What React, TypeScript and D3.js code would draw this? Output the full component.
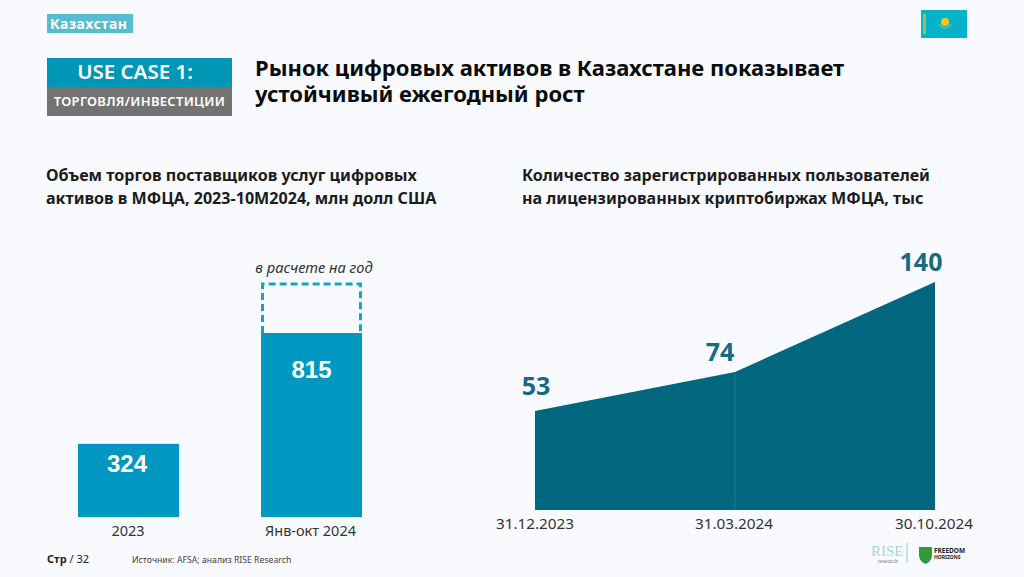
import React from "react";
import * as d3 from "d3";

const barCategories = ["2023", "Янв-окт 2024"];
const barValues = [324, 815];
const annualisedValue = 1036;
const areaDates = ["31.12.2023", "31.03.2024", "30.10.2024"];
const areaValues = [53, 74, 140];
const areaScaleKnots = [0, 53, 74, 140];
const titleLines = ["Рынок цифровых активов в Казахстане показывает", "устойчивый ежегодный рост"];
const leftHeading = ["Объем торгов поставщиков услуг цифровых", "активов в МФЦА, 2023-10М2024, млн долл США"];
const rightHeading = ["Количество зарегистрированных пользователей", "на лицензированных криптобиржах МФЦА, тыс"];

const F = "'Noto Sans', 'Open Sans', sans-serif";
const BLUE = "#0097c0";
const TEAL = "#00677f";

export default function App() {
  const barW = 101;
  const barLeft = (c: string) => (c === barCategories[0] ? 78 : 261);
  const barY = d3.scaleLinear().domain([0, 815]).range([517, 333]);
  const areaX = d3.scalePoint().domain(areaDates).range([535, 935]);
  const areaY = d3.scaleLinear().domain(areaScaleKnots).range([510, 411, 372, 282]);
  const area = d3.area<number>()
    .x((_, i) => areaX(areaDates[i]) as number)
    .y0(areaY(0))
    .y1((d) => areaY(d));
  const dashLeft = barLeft(barCategories[1]) + 1.5;
  const dashRight = dashLeft + barW - 3;
  const dashTop = barY(annualisedValue) + 1;
  const dashBottom = barY(barValues[1]);

  return (
    <svg width={1024} height={577} style={{ position: "absolute", left: 0, top: 0 }} fontFamily={F}>
      <rect width={1024} height={577} fill="#f9faff" />

      <rect x={47} y={14} width={86} height={19} fill="#55bcd2" />
      <text x={50} y={29} fontSize={14} fontWeight={700} fill="#fff" letterSpacing={0.5}>Казахстан</text>

      <rect x={921} y={10} width={46} height={28} fill="#05b2cc" />
      <rect x={923} y={14} width={3} height={20} fill="#a9b84a" />
      <circle cx={945} cy={22} r={4} fill="#f7c90c" />
      <path d="M939 24 Q945 32 951 24" fill="none" stroke="#6fb98a" strokeWidth={1.5} />

      <rect x={47} y={58} width={185} height={29} fill="#0097b6" />
      <text x={135} y={79} textAnchor="middle" fontSize={20.5} fontWeight={600} fill="#fff">USE CASE 1:</text>
      <rect x={47} y={87} width={185} height={29} fill="#737373" />
      <text x={139.5} y={106} textAnchor="middle" fontSize={13} fontWeight={600} fill="#fff" letterSpacing={0.3}>ТОРГОВЛЯ/ИНВЕСТИЦИИ</text>

      {titleLines.map((t, i) => (
        <text key={t} x={255} y={76 + i * 26} fontSize={22} fontWeight={700} fill="#0b0b0b">{t}</text>
      ))}
      {leftHeading.map((t, i) => (
        <text key={t} x={46} y={181 + i * 23} fontSize={16.1} fontWeight={700} fill="#1c1c1c">{t}</text>
      ))}
      {rightHeading.map((t, i) => (
        <text key={t} x={522} y={181 + i * 23} fontSize={16.1} fontWeight={700} fill="#1c1c1c">{t}</text>
      ))}

      <path
        d={`M${dashLeft} ${dashBottom} V${dashTop} H${dashRight} V${dashBottom}`}
        fill="none"
        stroke="#12a5cb"
        strokeWidth={3}
        strokeDasharray="7 4"
      />
      {barCategories.map((c, i) => (
        <g key={c}>
          <rect x={barLeft(c)} y={barY(barValues[i])} width={barW} height={barY(0) - barY(barValues[i])} fill={BLUE} />
          <text x={barLeft(c) + barW / 2 + [-1.5, 0][i]} y={barY(barValues[i]) + [28, 45][i]} textAnchor="middle" fontSize={24} fontWeight={700} fontFamily="'Liberation Sans', sans-serif" fill="#fff">
            {barValues[i]}
          </text>
          <text x={barLeft(c) + barW / 2 + [-0.5, -1][i]} y={536} textAnchor="middle" fontSize={14.5} fill="#333">{c}</text>
        </g>
      ))}
      <text x={314} y={273} textAnchor="middle" fontSize={14.7} fontStyle="italic" fill="#333">в расчете на год</text>

      <path d={area(areaValues) as string} fill={TEAL} />
      <line x1={areaX(areaDates[1])} x2={areaX(areaDates[1])} y1={areaY(areaValues[1])} y2={areaY(0)} stroke="#1a7a90" strokeWidth={1} />
      {areaDates.map((d, i) => (
        <g key={d}>
          <text x={[536, 720, 921][i]} y={areaY(areaValues[i]) + [-16, -11, -11][i]} textAnchor="middle" fontSize={25} fontWeight={700} fill="#156b80">
            {areaValues[i]}
          </text>
          <text x={[535, 734, 934][i]} y={529} textAnchor="middle" fontSize={15.3} fill="#333">{d}</text>
        </g>
      ))}

      <text x={47} y={563} fontSize={11} fill="#222"><tspan fontWeight={700}>Стр</tspan> / 32</text>
      <text x={132} y={563} fontSize={8.7} fill="#444">Источник: AFSA; анализ RISE Research</text>

      <text x={871} y={556} fontSize={15} fontFamily="'Liberation Serif', serif" fill="#9ddcc4">RISE</text>
      <text x={898} y={563} textAnchor="end" fontSize={6} fontFamily="'Liberation Serif', serif" fill="#777">research</text>
      <line x1={907} x2={907} y1={543} y2={563} stroke="#a8dcef" strokeWidth={1.5} />
      <path d="M919 547 H932 V556 Q931 562 925.5 564 Q920 562 919 556 Z" fill="#2f9a3e" />
      <text x={934} y={553} fontSize={6.5} fontWeight={700} fill="#222">FREEDOM</text>
      <text x={934} y={559} fontSize={5} fontWeight={700} fill="#222">HORIZONS</text>
    </svg>
  );
}
